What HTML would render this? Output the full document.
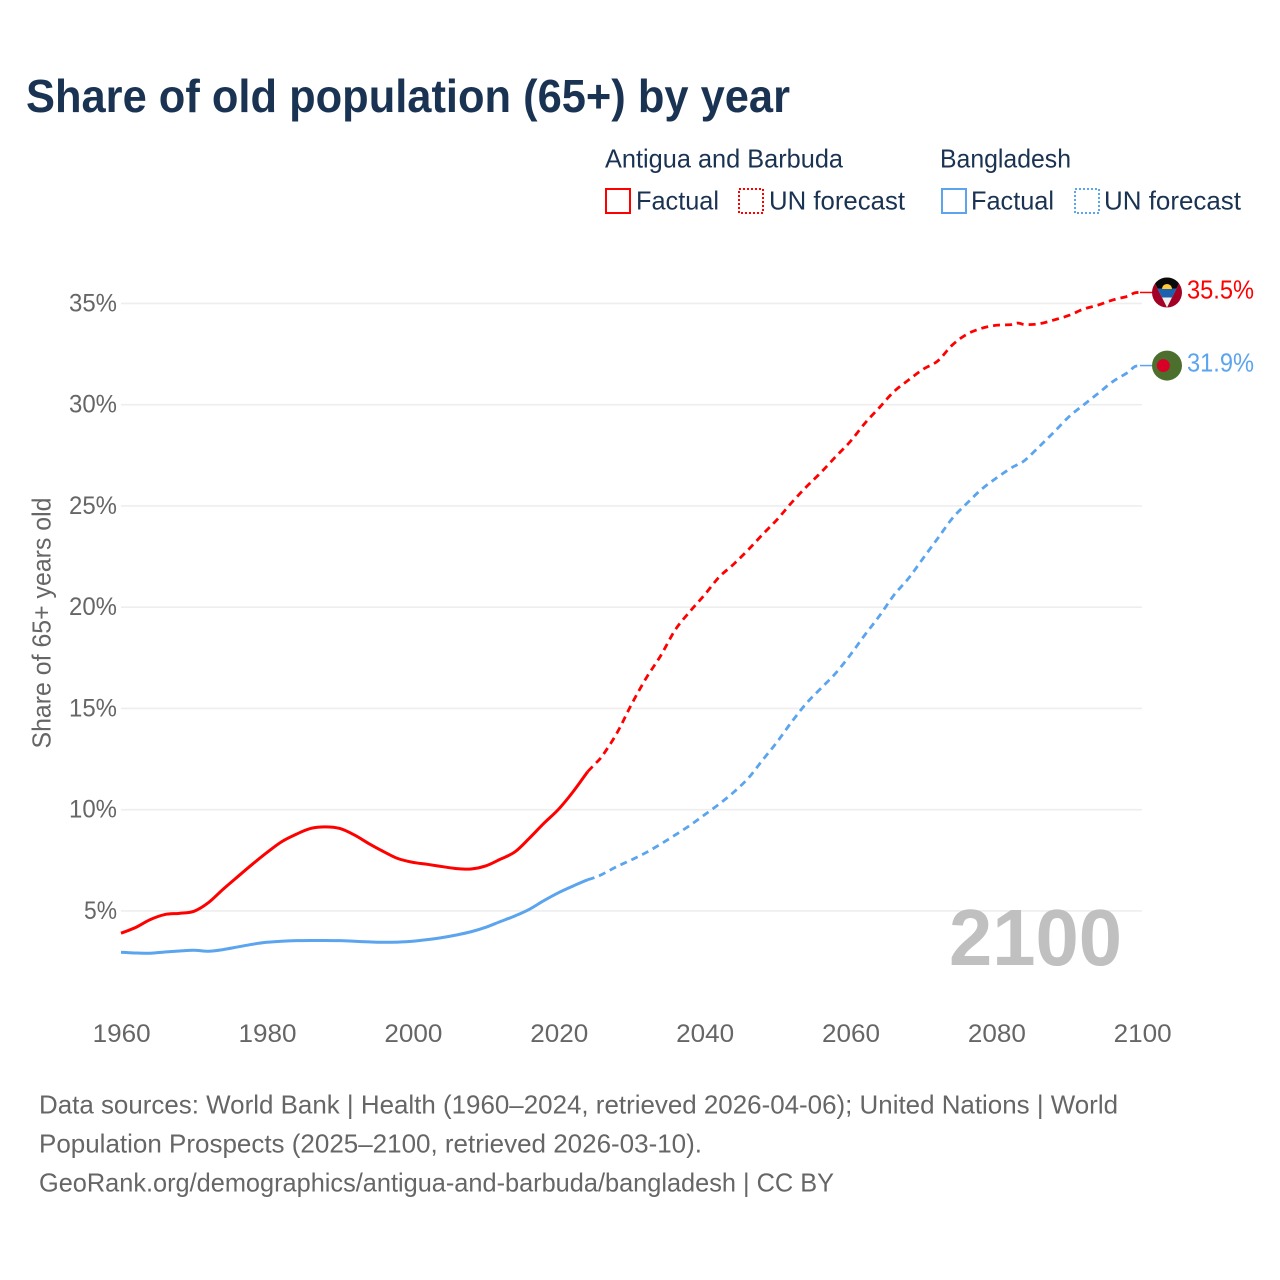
<!DOCTYPE html>
<html lang="en">
<head>
<meta charset="utf-8">
<title>Share of old population (65+) by year</title>
<style>
html,body{margin:0;padding:0;background:#fff;}
svg{display:block;font-family:"Liberation Sans",sans-serif;}
</style>
</head>
<body>
<svg id="chart" xmlns="http://www.w3.org/2000/svg" width="1280" height="1280" viewBox="0 0 1280 1280">
  <defs>
    <clipPath id="flag-clip"><circle cx="0" cy="0" r="15"></circle></clipPath>
  </defs>
  <rect x="0" y="0" width="1280" height="1280" fill="#ffffff"></rect>

  <text x="26" y="112" font-size="46" font-weight="700" fill="#1a3353" textLength="764" lengthAdjust="spacingAndGlyphs">Share of old population (65+) by year</text>

  <g font-size="26" fill="#1a3353">
    <text x="605" y="167.5" textLength="238" lengthAdjust="spacingAndGlyphs">Antigua and Barbuda</text>
    <text x="940" y="167.5" textLength="131" lengthAdjust="spacingAndGlyphs">Bangladesh</text>
    <rect x="606" y="189" width="24" height="24" fill="none" stroke="#ff0000" stroke-width="2" shape-rendering="crispEdges"></rect>
    <text x="636" y="209.5" textLength="83" lengthAdjust="spacingAndGlyphs">Factual</text>
    <rect x="739" y="189" width="24" height="24" fill="none" stroke="#ff0000" stroke-width="2" stroke-dasharray="2 2" shape-rendering="crispEdges"></rect>
    <text x="769" y="209.5" textLength="136" lengthAdjust="spacingAndGlyphs">UN forecast</text>
    <rect x="942" y="189" width="24" height="24" fill="none" stroke="#5ba4ee" stroke-width="2" shape-rendering="crispEdges"></rect>
    <text x="971" y="209.5" textLength="83" lengthAdjust="spacingAndGlyphs">Factual</text>
    <rect x="1075" y="189" width="24" height="24" fill="none" stroke="#5ba4ee" stroke-width="2" stroke-dasharray="2 2" shape-rendering="crispEdges"></rect>
    <text x="1104" y="209.5" textLength="137" lengthAdjust="spacingAndGlyphs">UN forecast</text>
  </g>

  <g id="grid"></g>
  <g id="y-ticks"></g>
  <g id="x-ticks"></g>

  <text transform="translate(50.5,623) rotate(-90)" text-anchor="middle" font-size="26" fill="#666666" textLength="251" lengthAdjust="spacingAndGlyphs">Share of 65+ years old</text>

  <text x="949" y="965" font-size="80" font-weight="700" fill="#c0c0c0" textLength="173" lengthAdjust="spacingAndGlyphs">2100</text>

  <g id="series"></g>

  <g id="flag-antigua">
    <g clip-path="url(#flag-clip)">
      <rect x="-15" y="-15" width="30" height="30" fill="#a30026"></rect>
      <polygon points="-15,-15 15,-15 0,15" fill="#eeeeee"></polygon>
      <polygon points="-15,-15 15,-15 9.5,-4 -9.5,-4" fill="#0a0a0a"></polygon>
      <polygon points="-9.5,-4 9.5,-4 5,5 -5,5" fill="#1a62b0"></polygon>
      <path d="M-5,-3.5 A5,5 0 0 1 5,-3.5 Z" fill="#ffc93c"></path>
    </g>
  </g>
  <g id="flag-bangladesh">
    <circle cx="0" cy="0" r="15" fill="#4d6f2e"></circle>
    <circle cx="-3.7" cy="0" r="6.5" fill="#d80027"></circle>
  </g>

  <text id="end-antigua" x="1187" font-size="26" fill="#ff0000" textLength="67" lengthAdjust="spacingAndGlyphs"></text>
  <text id="end-bangladesh" x="1187" font-size="26" fill="#5ba4ee" textLength="67" lengthAdjust="spacingAndGlyphs"></text>

  <g font-size="26" fill="#666666">
    <text x="39" y="1113.5" textLength="1079" lengthAdjust="spacingAndGlyphs">Data sources: World Bank | Health (1960–2024, retrieved 2026-04-06); United Nations | World</text>
    <text x="39" y="1152.5" textLength="663" lengthAdjust="spacingAndGlyphs">Population Prospects (2025–2100, retrieved 2026-03-10).</text>
    <text x="39" y="1191.5" textLength="795" lengthAdjust="spacingAndGlyphs">GeoRank.org/demographics/antigua-and-barbuda/bangladesh | CC BY</text>
  </g>
</svg>
<script>
var yTickValues = [5, 10, 15, 20, 25, 30, 35];
var xTickYears = [1960, 1980, 2000, 2020, 2040, 2060, 2080, 2100];

var factualYears = [1960,1962,1964,1966,1968,1970,1972,1974,1976,1978,1980,1982,1984,1986,1988,1990,1992,1994,1996,1998,2000,2002,2004,2006,2008,2010,2012,2014,2016,2018,2020,2022,2024];
var antiguaFactual = [3.90,4.18,4.57,4.82,4.88,4.98,5.41,6.07,6.69,7.30,7.88,8.41,8.78,9.07,9.15,9.07,8.75,8.32,7.93,7.58,7.40,7.30,7.19,7.09,7.07,7.22,7.55,7.91,8.59,9.33,10.02,10.89,11.88];
var bangladeshFactual = [2.96,2.92,2.91,2.97,3.02,3.06,3.01,3.09,3.22,3.35,3.45,3.50,3.53,3.54,3.54,3.53,3.50,3.47,3.45,3.46,3.50,3.58,3.68,3.81,3.97,4.19,4.47,4.75,5.08,5.51,5.90,6.23,6.54];

var forecastYears = [2024,2025,2026,2028,2030,2032,2034,2036,2038,2040,2042,2044,2046,2048,2050,2052,2054,2056,2058,2060,2062,2064,2066,2068,2070,2072,2074,2076,2078,2080,2082,2083,2084,2086,2088,2090,2092,2094,2096,2098,2099,2100];
var antiguaForecast = [11.88,12.26,12.66,13.78,15.20,16.49,17.60,18.88,19.78,20.60,21.48,22.12,22.83,23.60,24.34,25.18,25.95,26.66,27.43,28.18,29.08,29.86,30.65,31.22,31.75,32.16,32.95,33.48,33.77,33.92,33.95,34.03,33.95,34.00,34.19,34.41,34.72,34.92,35.17,35.35,35.52,35.54];
var bangladeshForecast = [6.54,6.66,6.81,7.19,7.52,7.88,8.30,8.75,9.22,9.74,10.27,10.86,11.55,12.46,13.36,14.35,15.26,16.00,16.74,17.64,18.63,19.57,20.60,21.43,22.42,23.40,24.39,25.13,25.82,26.37,26.86,27.05,27.27,27.96,28.67,29.41,29.99,30.56,31.14,31.58,31.88,31.93];

var SVG_NS = 'http://www.w3.org/2000/svg';
var RED = '#ff0000';
var BLUE = '#5ba4ee';

function xScale(year) {
  return 121 + (year - 1960) * (1142 - 121) / 140;
}
function yScale(value) {
  return 303.4 + (35 - value) * 20.25;
}
function linePath(years, values) {
  var pts = years.map(function (yr, i) { return [xScale(yr), yScale(values[i])]; });
  var d = 'M' + pts[0][0].toFixed(2) + ',' + pts[0][1].toFixed(2);
  for (var i = 0; i < pts.length - 1; i++) {
    var p0 = pts[i > 0 ? i - 1 : i];
    var p1 = pts[i];
    var p2 = pts[i + 1];
    var p3 = pts[i + 2 < pts.length ? i + 2 : i + 1];
    var c1x = p1[0] + (p2[0] - p0[0]) / 6;
    var c1y = p1[1] + (p2[1] - p0[1]) / 6;
    var c2x = p2[0] - (p3[0] - p1[0]) / 6;
    var c2y = p2[1] - (p3[1] - p1[1]) / 6;
    d += 'C' + c1x.toFixed(2) + ',' + c1y.toFixed(2) + ' ' + c2x.toFixed(2) + ',' + c2y.toFixed(2) + ' ' + p2[0].toFixed(2) + ',' + p2[1].toFixed(2);
  }
  return d;
}

var grid = document.getElementById('grid');
var yTicksGroup = document.getElementById('y-ticks');
var xTicksGroup = document.getElementById('x-ticks');
var seriesGroup = document.getElementById('series');

yTickValues.forEach(function (v) {
  var line = document.createElementNS(SVG_NS, 'line');
  
  
  line.setAttribute('x1', 121);
  line.setAttribute('x2', 1142);
  line.setAttribute('y1', yScale(v));
  line.setAttribute('y2', yScale(v));
  line.setAttribute('stroke', '#eeeeee');
  line.setAttribute('stroke-width', '1.6');
  grid.appendChild(line);

  var label = document.createElementNS(SVG_NS, 'text');
  
  
  label.setAttribute('x', 117);
  label.setAttribute('y', yScale(v) + 8);
  label.setAttribute('text-anchor', 'end');
  label.setAttribute('font-size', '25');
  label.setAttribute('fill', '#666666');
  label.setAttribute('textLength', v < 10 ? '33' : '48');
  label.setAttribute('lengthAdjust', 'spacingAndGlyphs');
  label.textContent = v + '%';
  yTicksGroup.appendChild(label);
});

xTickYears.forEach(function (yr) {
  var label = document.createElementNS(SVG_NS, 'text');
  
  
  label.setAttribute('x', xScale(yr) + 0.7);
  label.setAttribute('y', 1042);
  label.setAttribute('text-anchor', 'middle');
  label.setAttribute('font-size', '25');
  label.setAttribute('fill', '#666666');
  label.setAttribute('textLength', '58');
  label.setAttribute('lengthAdjust', 'spacingAndGlyphs');
  label.textContent = yr;
  xTicksGroup.appendChild(label);
});

var redForecastLine = document.createElementNS(SVG_NS, 'path');


redForecastLine.setAttribute('d', linePath(forecastYears, antiguaForecast));
redForecastLine.setAttribute('fill', 'none');
redForecastLine.setAttribute('stroke', RED);
redForecastLine.setAttribute('stroke-width', '2.8');
redForecastLine.setAttribute('stroke-dasharray', '7 5');
seriesGroup.appendChild(redForecastLine);

var blueForecastLine = document.createElementNS(SVG_NS, 'path');


blueForecastLine.setAttribute('d', linePath(forecastYears, bangladeshForecast));
blueForecastLine.setAttribute('fill', 'none');
blueForecastLine.setAttribute('stroke', BLUE);
blueForecastLine.setAttribute('stroke-width', '2.8');
blueForecastLine.setAttribute('stroke-dasharray', '7 5');
seriesGroup.appendChild(blueForecastLine);

var redFactualLine = document.createElementNS(SVG_NS, 'path');


redFactualLine.setAttribute('d', linePath(factualYears, antiguaFactual));
redFactualLine.setAttribute('fill', 'none');
redFactualLine.setAttribute('stroke', RED);
redFactualLine.setAttribute('stroke-width', '3');
seriesGroup.appendChild(redFactualLine);

var blueFactualLine = document.createElementNS(SVG_NS, 'path');


blueFactualLine.setAttribute('d', linePath(factualYears, bangladeshFactual));
blueFactualLine.setAttribute('fill', 'none');
blueFactualLine.setAttribute('stroke', BLUE);
blueFactualLine.setAttribute('stroke-width', '3');
seriesGroup.appendChild(blueFactualLine);

var lastAntigua = antiguaForecast[antiguaForecast.length - 1];
var lastBangladesh = bangladeshForecast[bangladeshForecast.length - 1];

var redConnector = document.createElementNS(SVG_NS, 'line');


redConnector.setAttribute('x1', xScale(2100) - 2);
redConnector.setAttribute('x2', 1153);
redConnector.setAttribute('y1', yScale(lastAntigua));
redConnector.setAttribute('y2', yScale(lastAntigua));
redConnector.setAttribute('stroke', RED);
redConnector.setAttribute('stroke-width', '1.5');
seriesGroup.appendChild(redConnector);

var blueConnector = document.createElementNS(SVG_NS, 'line');


blueConnector.setAttribute('x1', xScale(2100) - 2);
blueConnector.setAttribute('x2', 1153);
blueConnector.setAttribute('y1', yScale(lastBangladesh));
blueConnector.setAttribute('y2', yScale(lastBangladesh));
blueConnector.setAttribute('stroke', BLUE);
blueConnector.setAttribute('stroke-width', '1.5');
seriesGroup.appendChild(blueConnector);

document.getElementById('flag-antigua').setAttribute('transform', 'translate(1167,' + yScale(lastAntigua) + ')');
document.getElementById('flag-bangladesh').setAttribute('transform', 'translate(1167,' + yScale(lastBangladesh) + ')');

var endAntigua = document.getElementById('end-antigua');
endAntigua.setAttribute('y', yScale(lastAntigua) + 6);
endAntigua.textContent = lastAntigua.toFixed(1) + '%';

var endBangladesh = document.getElementById('end-bangladesh');
endBangladesh.setAttribute('y', yScale(lastBangladesh) + 6);
endBangladesh.textContent = lastBangladesh.toFixed(1) + '%';
</script>
</body>
</html>
